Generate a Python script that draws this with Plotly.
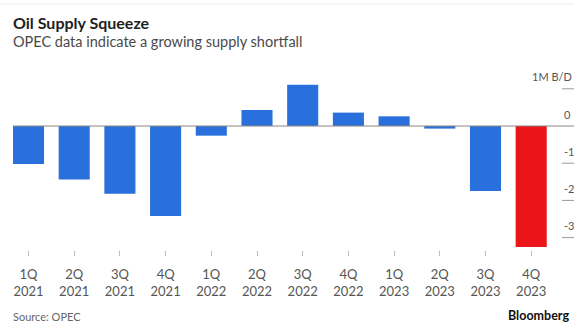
import plotly.graph_objects as go

quarters = ["1Q", "2Q", "3Q", "4Q", "1Q", "2Q", "3Q", "4Q", "1Q", "2Q", "3Q", "4Q"]
years = ["2021", "2021", "2021", "2021", "2022", "2022", "2022", "2022", "2023", "2023", "2023", "2023"]
values = [-1.02, -1.44, -1.82, -2.42, -0.26, 0.43, 1.11, 0.36, 0.26, -0.07, -1.75, -3.25]
bar_colors = ["#2a70dc"] * 11 + ["#ea1419"]
tick_vals = [1, 0, -1, -2, -3]
tick_text = ["1M B/D", "0", "-1", "-2", "-3"]

cats = [f"{q} {y}" for q, y in zip(quarters, years)]
labels = [f"{q}<br>{y}" for q, y in zip(quarters, years)]

FONT = "Lato"
W, H = 574, 324
ML, MR, MT, MB = 13, 0, 80, 74
pw, ph = W - ML - MR, H - MT - MB


def px(x):
    return (x - ML) / pw


def py(y):
    return (H - MB - y) / ph


fig = go.Figure()
fig.add_trace(go.Bar(
    x=cats, y=values, marker=dict(color=bar_colors, line=dict(width=0)),
    width=0.68, hoverinfo="skip",
))

# zero line
fig.add_shape(type="line", xref="paper", yref="y", x0=0, x1=1, y0=0, y1=0,
              line=dict(color="#8c8680", width=1.2), layer="above")

seg_x0 = px(562)
for v, t in zip(tick_vals, tick_text):
    if v != 0:
        fig.add_shape(type="line", xref="paper", yref="y", x0=seg_x0, x1=1, y0=v, y1=v,
                      line=dict(color="#9a9a9a", width=1))
    if v == 1:
        fig.add_annotation(x=1, xref="paper", y=v, yref="y", text=t, showarrow=False,
                           xanchor="right", yanchor="middle", yshift=12,
                           font=dict(family=FONT, size=11, color="#555"))
    else:
        fig.add_annotation(x=seg_x0, xref="paper", y=v, yref="y", text=t, showarrow=False,
                           xanchor="left", yanchor="middle", yshift=12,
                           font=dict(family=FONT, size=11, color="#555"))

# titles / footer
fig.add_annotation(x=px(11), y=py(22), xref="paper", yref="paper", text="<b>Oil Supply Squeeze</b>",
                   showarrow=False, xanchor="left", yanchor="middle",
                   font=dict(family=FONT, size=16, color="#1e1e1e"))
fig.add_annotation(x=px(11), y=py(42), xref="paper", yref="paper",
                   text="OPEC data indicate a growing supply shortfall",
                   showarrow=False, xanchor="left", yanchor="middle",
                   font=dict(family=FONT, size=14.5, color="#4a4a4a"))
fig.add_annotation(x=px(11), y=py(316), xref="paper", yref="paper", text="Source: OPEC",
                   showarrow=False, xanchor="left", yanchor="middle",
                   font=dict(family=FONT, size=11, color="#666"))
fig.add_annotation(x=px(571), y=py(315), xref="paper", yref="paper", text="<b>Bloomberg</b>",
                   showarrow=False, xanchor="right", yanchor="middle",
                   font=dict(family=FONT, size=12.5, color="#111"))

px_per_cat = 45.7
c0 = 28.5
fig.update_layout(
    width=W, height=H,
    margin=dict(l=ML, r=MR, t=MT, b=MB),
    paper_bgcolor="white", plot_bgcolor="white",
    showlegend=False,
    font=dict(family=FONT),
    xaxis=dict(
        type="category", tickvals=cats, ticktext=labels,
        range=[(ML - c0) / px_per_cat, (W - MR - c0) / px_per_cat],
        showgrid=False, zeroline=False, showline=False,
        ticks="outside", ticklen=5, tickcolor="#bbbbbb", tickwidth=1,
        ticklabelstandoff=7,
        tickfont=dict(family=FONT, size=13, color="#555"),
    ),
    yaxis=dict(
        range=[-(H - MB - 126) / 37.2, (126 - MT) / 37.2],
        showgrid=False, zeroline=False, showline=False, showticklabels=False,
    ),
)
fig.add_shape(type="line", xref="paper", yref="paper", x0=px(0), x1=1, y0=py(4), y1=py(4),
              line=dict(color="#eeeeee", width=1))

fig.write_html("out.html")
